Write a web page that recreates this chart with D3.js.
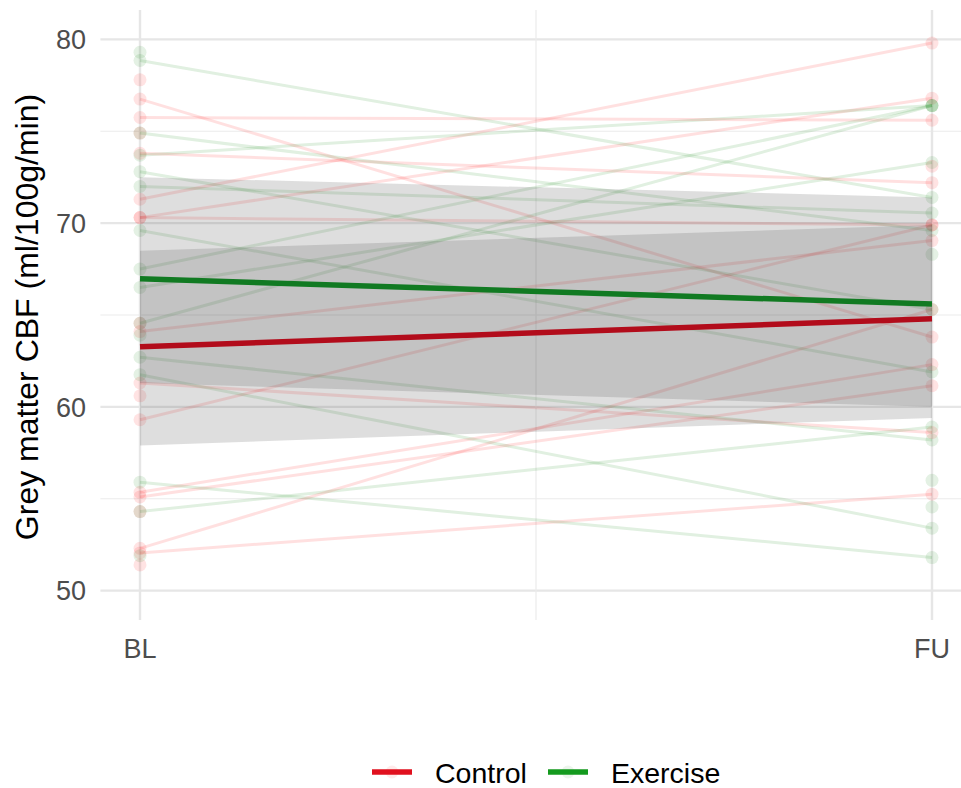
<!DOCTYPE html>
<html>
<head>
<meta charset="utf-8">
<script src="https://cdn.jsdelivr.net/npm/d3@7"></script>
<style>
  html, body { margin: 0; padding: 0; background: #ffffff; }
  svg { display: block; font-family: "Liberation Sans", Arial, Helvetica, sans-serif; }
</style>
</head>
<body>
<svg id="chart" width="961" height="788"></svg>
<script>
// Time points on the x axis
const timeLabels = ["BL", "FU"];
const timeValues = [1, 2];

// Per-participant grey matter CBF (BL, FU); null = visit missing
const controlBL = [77.8, 76.75, 75.75, 74.9, 73.8, 71.3, 70.3, 70.3, 64.55, 64.1, 61.3, 60.6, 59.3, 55.35, 55.1, 54.3, 52.3, 52.05, 51.4, null];
const controlFU = [null, 63.8, 75.6, null, 72.2, 79.8, 76.8, 69.9, null, 69.05, 58.6, null, 69.9, 62.3, 61.15, null, 65.3, 55.25, null, 73.1];
const exerciseBL = [79.3, 78.85, 74.9, 73.7, 72.8, 72.0, 69.6, 67.5, 66.5, 64.55, 63.9, 62.7, 61.75, 55.9, 54.3, 51.9, null, null, null];
const exerciseFU = [null, 71.4, 69.6, 76.4, 65.3, 70.55, 61.9, 76.4, 73.3, 76.4, null, 58.2, 53.4, 51.8, 58.9, null, 68.3, 56.0, 54.55];

// Group fits at BL and FU with confidence band limits
const controlFit = [63.27, 64.8];
const controlLower = [57.9, 59.4];
const controlUpper = [68.5, 69.9];
const exerciseFit = [66.97, 65.6];
const exerciseLower = [61.3, 60.0];
const exerciseUpper = [72.5, 71.4];

const yTicks = [50, 60, 70, 80];
const yMinorTicks = [55, 65, 75];
const groupNames = ["Control", "Exercise"];

const svg = d3.select("#chart");

const x = d3.scaleLinear().domain([0.95, 2.05]).range([100.4, 971.6]);
const y = d3.scaleLinear().domain([48.4, 81.6]).range([620, 10]);

const colors = {
  Control: { raw: "#ff0000", fit: "#b20c1b", key: "#e0101e" },
  Exercise: { raw: "#0a800a", fit: "#117a22", key: "#149a1e" }
};

// Grid
const grid = svg.append("g");
grid.selectAll("line.ymin").data(yMinorTicks).join("line")
  .attr("x1", x.range()[0]).attr("x2", x.range()[1])
  .attr("y1", d => y(d)).attr("y2", d => y(d))
  .attr("stroke", "#ebebeb").attr("stroke-width", 1.2);
grid.selectAll("line.ymaj").data(yTicks).join("line")
  .attr("x1", x.range()[0]).attr("x2", x.range()[1])
  .attr("y1", d => y(d)).attr("y2", d => y(d))
  .attr("stroke", "#e6e6e6").attr("stroke-width", 2.4);
grid.append("line")
  .attr("x1", x(1.5)).attr("x2", x(1.5))
  .attr("y1", y.range()[1]).attr("y2", y.range()[0])
  .attr("stroke", "#ebebeb").attr("stroke-width", 1.2);
grid.selectAll("line.xmaj").data(timeValues).join("line")
  .attr("x1", d => x(d)).attr("x2", d => x(d))
  .attr("y1", y.range()[1]).attr("y2", y.range()[0])
  .attr("stroke", "#e6e6e6").attr("stroke-width", 2.4);

// Individual trajectories
function subjects(bl, fu) {
  return bl.map((b, i) => [b, fu[i]]);
}
const groups = [
  { name: "Control", data: subjects(controlBL, controlFU) },
  { name: "Exercise", data: subjects(exerciseBL, exerciseFU) }
];

const raw = svg.append("g");
groups.forEach(g => {
  const c = colors[g.name].raw;
  raw.append("g").selectAll("line")
    .data(g.data.filter(d => d[0] !== null && d[1] !== null))
    .join("line")
    .attr("x1", x(timeValues[0])).attr("x2", x(timeValues[1]))
    .attr("y1", d => y(d[0])).attr("y2", d => y(d[1]))
    .attr("stroke", c).attr("stroke-opacity", 0.12).attr("stroke-width", 3);
  const pts = [];
  g.data.forEach(d => {
    d.forEach((v, j) => { if (v !== null) pts.push([timeValues[j], v]); });
  });
  raw.append("g").selectAll("circle").data(pts).join("circle")
    .attr("cx", d => x(d[0])).attr("cy", d => y(d[1])).attr("r", 6.5)
    .attr("fill", c).attr("fill-opacity", 0.11);
});

// Confidence bands
const area = d3.area()
  .x((d, i) => x(timeValues[i]))
  .y0(d => y(d[0])).y1(d => y(d[1]));
[[controlLower, controlUpper], [exerciseLower, exerciseUpper]].forEach(([lo, hi]) => {
  svg.append("path")
    .datum(lo.map((v, i) => [v, hi[i]]))
    .attr("d", area)
    .attr("fill", "#484848").attr("fill-opacity", 0.18);
});

// Group fit lines
const line = d3.line().x((d, i) => x(timeValues[i])).y(d => y(d));
[["Control", controlFit], ["Exercise", exerciseFit]].forEach(([name, fit]) => {
  svg.append("path").datum(fit).attr("d", line)
    .attr("fill", "none").attr("stroke", colors[name].fit).attr("stroke-width", 5.5);
});

// Axes text
const yAxis = svg.append("g");
yAxis.selectAll("text").data(yTicks).join("text")
  .attr("x", 86).attr("y", d => y(d)).attr("dy", "0.36em")
  .attr("text-anchor", "end").attr("font-size", 27).attr("fill", "#4d4d4d")
  .text(d => d);

svg.append("g").selectAll("text").data(timeValues).join("text")
  .attr("x", d => x(d)).attr("y", 658)
  .attr("text-anchor", "middle").attr("font-size", 27).attr("fill", "#4d4d4d")
  .text((d, i) => timeLabels[i]);

svg.append("text")
  .attr("transform", `translate(38,${(y.range()[0] + y.range()[1]) / 2 + 2}) rotate(-90)`)
  .attr("text-anchor", "middle").attr("font-size", 32).attr("fill", "#000000")
  .text("Grey matter CBF (ml/100g/min)");

// Legend
const legendItems = [
  { name: groupNames[0], x0: 372, tx: 435 },
  { name: groupNames[1], x0: 548, tx: 611 }
];
const legend = svg.append("g");
legendItems.forEach(item => {
  const c = colors[item.name];
  legend.append("circle").attr("cx", item.x0 + 20).attr("cy", 772).attr("r", 6.5)
    .attr("fill", c.raw).attr("fill-opacity", 0.08);
  legend.append("line")
    .attr("x1", item.x0).attr("x2", item.x0 + 40)
    .attr("y1", 772).attr("y2", 772)
    .attr("stroke", c.key).attr("stroke-width", 5.5);
  legend.append("text")
    .attr("x", item.tx).attr("y", 783)
    .attr("font-size", 28.5).attr("fill", "#000000")
    .text(item.name);
});
</script>
</body>
</html>
